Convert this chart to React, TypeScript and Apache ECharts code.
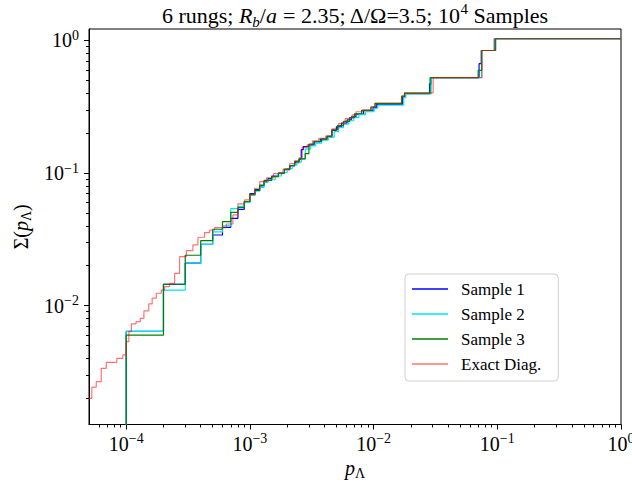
import React, { useEffect, useRef } from 'react';
import * as echarts from 'echarts';

// ---- data ----
const seriesNames = ['Sample 1', 'Sample 2', 'Sample 3', 'Exact Diag.'];

const sample1: [number, number][] = [
  [1e-4, 1e-4], [1e-4, 0.0064], [2e-4, 0.0145], [3e-4, 0.0209], [4e-4, 0.029], [5e-4, 0.0341],
  [6e-4, 0.039], [7e-4, 0.0456], [8e-4, 0.0533], [9e-4, 0.0608], [1.0e-3, 0.07], [1.1e-3, 0.075],
  [1.2e-3, 0.08], [1.3e-3, 0.087], [1.4e-3, 0.091], [1.5e-3, 0.095], [1.7e-3, 0.1], [1.9e-3, 0.106],
  [2.1e-3, 0.113], [2.3e-3, 0.12], [2.5e-3, 0.127], [2.6e-3, 0.15], [2.7e-3, 0.158], [3.0e-3, 0.163],
  [3.3e-3, 0.172], [3.7e-3, 0.18], [4.2e-3, 0.188], [4.6e-3, 0.21], [5.0e-3, 0.223], [5.5e-3, 0.238],
  [6.1e-3, 0.252], [6.6e-3, 0.265], [7.2e-3, 0.278], [8.3e-3, 0.295], [9.9e-3, 0.313], [0.0106, 0.33],
  [0.0171, 0.375], [0.0179, 0.397], [0.0283, 0.47], [0.0292, 0.524], [0.0712, 0.668], [0.0742, 0.84],
  [0.0955, 1.03], [1, 1.03],
];

const sample2: [number, number][] = [
  [1e-4, 1e-4], [1e-4, 0.0064], [2e-4, 0.0131], [3e-4, 0.0209], [4e-4, 0.029], [5e-4, 0.036],
  [6e-4, 0.04], [7e-4, 0.054], [8e-4, 0.056], [9e-4, 0.06], [1.0e-3, 0.068], [1.1e-3, 0.073],
  [1.2e-3, 0.078], [1.3e-3, 0.085], [1.4e-3, 0.089], [1.6e-3, 0.095], [1.8e-3, 0.101], [2.0e-3, 0.108],
  [2.2e-3, 0.115], [2.4e-3, 0.121], [2.6e-3, 0.128], [2.8e-3, 0.152], [3.1e-3, 0.16], [3.4e-3, 0.168],
  [3.8e-3, 0.177], [4.3e-3, 0.186], [4.8e-3, 0.205], [5.2e-3, 0.22], [5.7e-3, 0.234], [6.3e-3, 0.248],
  [6.9e-3, 0.262], [7.6e-3, 0.276], [8.6e-3, 0.29], [0.0101, 0.308], [0.0108, 0.325], [0.0175, 0.37],
  [0.0182, 0.395], [0.0292, 0.524], [0.0745, 0.84], [0.096, 1.03], [1, 1.03],
];

const sample3: [number, number][] = [
  [1e-4, 1e-4], [1e-4, 0.006], [2e-4, 0.0145], [3e-4, 0.024], [4e-4, 0.0309], [5e-4, 0.0377],
  [6e-4, 0.043], [7e-4, 0.0506], [8e-4, 0.055], [9e-4, 0.061], [1.0e-3, 0.069], [1.1e-3, 0.074],
  [1.2e-3, 0.081], [1.3e-3, 0.088], [1.5e-3, 0.094], [1.7e-3, 0.1], [1.9e-3, 0.107], [2.1e-3, 0.114],
  [2.3e-3, 0.122], [2.5e-3, 0.128], [2.8e-3, 0.14], [3.0e-3, 0.165], [3.3e-3, 0.173], [3.8e-3, 0.18],
  [4.2e-3, 0.19], [4.6e-3, 0.212], [5.1e-3, 0.228], [5.7e-3, 0.245], [6.4e-3, 0.262], [7.0e-3, 0.28],
  [8.0e-3, 0.297], [9.5e-3, 0.315], [0.0103, 0.335], [0.0169, 0.38], [0.0178, 0.4], [0.0286, 0.524],
  [0.07, 0.594], [0.0748, 0.84], [0.097, 1.03], [1, 1.03],
];

const exactDiag: [number, number][] = [
  [4e-5, 0.002], [5.27e-5, 0.00243], [5.72e-5, 0.00267], [6.28e-5, 0.00337], [6.9e-5, 0.00374],
  [8.4e-5, 0.00401], [9.38e-5, 0.00425], [1.0e-4, 0.00535], [1.05e-4, 0.00637], [1.1e-4, 0.00728],
  [1.2e-4, 0.00758], [1.3e-4, 0.00803], [1.39e-4, 0.00912], [1.52e-4, 0.0103], [1.62e-4, 0.0114],
  [1.75e-4, 0.0124], [1.92e-4, 0.0131], [2.04e-4, 0.0139], [2.24e-4, 0.0147], [2.46e-4, 0.0175],
  [2.7e-4, 0.0234], [3.06e-4, 0.026], [3.46e-4, 0.0287], [3.8e-4, 0.0328], [4.3e-4, 0.0356],
  [4.72e-4, 0.0372], [5.18e-4, 0.0388], [6.44e-4, 0.0413], [7.28e-4, 0.0483], [8.0e-4, 0.0585],
  [9.06e-4, 0.0627], [9.95e-4, 0.0684], [1.09e-3, 0.0768], [1.2e-3, 0.0861], [1.36e-3, 0.092],
  [1.55e-3, 0.099], [1.85e-3, 0.107], [2.1e-3, 0.118], [2.3e-3, 0.124], [2.5e-3, 0.13],
  [2.65e-3, 0.157], [2.9e-3, 0.163], [3.2e-3, 0.175], [3.6e-3, 0.183], [4.1e-3, 0.19],
  [4.6e-3, 0.215], [5.2e-3, 0.236], [5.9e-3, 0.258], [6.7e-3, 0.275], [7.2e-3, 0.29],
  [8.2e-3, 0.3], [9.6e-3, 0.315], [0.0102, 0.336], [0.0168, 0.38], [0.0177, 0.402],
  [0.0303, 0.525], [0.0753, 0.84], [0.094, 1.03], [1, 1.03],
];

const xMajorTicks = [1e-4, 1e-3, 1e-2, 1e-1, 1];
const yMajorTicks = [1e-2, 1e-1, 1];
const xRange = [5e-5, 1];
const yRange = [1.27e-3, 1.22];

const titleText =
  '{n|6 rungs; }{i|R}{s|b}{n|/}{i|a}{n| = 2.35; Δ/Ω=3.5; 10}{p|4}{n| Samples}';
const xName = '{i|p}{s|Λ}';
const yName = '{n|Σ(}{i|p}{s|Λ}{n|)}';

// ---- styling ----
const FONT = '"Liberation Serif", "DejaVu Serif", serif';
const colors = ['#0000ff', '#00e5ee', '#008000', 'rgba(255,0,0,0.55)'];

function minorTicks(lo: number, hi: number): number[] {
  const out: number[] = [];
  for (let n = -6; n <= 1; n++) {
    for (let k = 2; k <= 9; k++) {
      const v = k * Math.pow(10, n);
      if (v > lo && v < hi) out.push(v);
    }
  }
  return out;
}

function powLabel(v: number): string {
  const e = v <= 0 ? Math.round(v) : Math.round(Math.log10(v));
  const s = e < 0 ? '\u2212' + String(-e) : String(e);
  return `{b|10}{e|${s}}`;
}

const tickRich = {
  b: { fontFamily: FONT, fontSize: 20, lineHeight: 24, color: '#000' },
  e: { fontFamily: FONT, fontSize: 14, lineHeight: 14, verticalAlign: 'top', color: '#000' },
};

const nameRich = {
  n: { fontFamily: FONT, fontSize: 20, lineHeight: 24, color: '#000' },
  i: { fontFamily: FONT, fontSize: 20, lineHeight: 24, fontStyle: 'italic', color: '#000' },
  s: { fontFamily: FONT, fontSize: 14, lineHeight: 14, verticalAlign: 'bottom', color: '#000' },
};

export default function App() {
  const ref = useRef<HTMLDivElement>(null);

  useEffect(() => {
    if (!ref.current) return;
    const chart = echarts.init(ref.current, undefined, { renderer: 'svg' });
    const xMinor = minorTicks(xRange[0], xRange[1]);
    const yMinor = minorTicks(yRange[0], yRange[1]);
    const allData = [sample1, sample2, sample3, exactDiag];

    const axisLine = { show: true, lineStyle: { color: '#000', width: 1 } };

    chart.setOption({
      animation: false,
      backgroundColor: '#fff',
      grid: {
        left: 89, top: 29, right: 11, bottom: 58.5,
        show: true, borderColor: '#000', borderWidth: 1,
        containLabel: false, outerBoundsMode: 'none',
      },
      graphic: [
        {
          type: 'text',
          x: 355,
          y: 1,
          style: {
            text: titleText,
            align: 'center',
            verticalAlign: 'top',
            fill: '#000',
            fontFamily: FONT,
            fontSize: 22,
            rich: {
              n: { fontFamily: FONT, fontSize: 22, lineHeight: 28, fill: '#000' },
              i: { fontFamily: FONT, fontSize: 22, lineHeight: 28, fontStyle: 'italic', fill: '#000' },
              s: { fontFamily: FONT, fontSize: 15, lineHeight: 15, fontStyle: 'italic', verticalAlign: 'bottom', fill: '#000' },
              p: { fontFamily: FONT, fontSize: 15, lineHeight: 15, verticalAlign: 'top', fill: '#000' },
            },
          },
        },
      ],
      legend: {
        orient: 'vertical',
        left: 405,
        top: 274,
        data: seriesNames,
        icon: 'rect',
        itemWidth: 36,
        itemHeight: 1.5,
        itemGap: 5,
        padding: [5, 17, 7, 7],
        backgroundColor: 'rgba(255,255,255,0.8)',
        borderColor: '#d0d0d0',
        borderWidth: 1,
        borderRadius: 4,
        textStyle: { fontFamily: FONT, fontSize: 17, lineHeight: 20, color: '#000', padding: [0, 0, 0, 8] },
      },
      xAxis: [
        {
          type: 'log', logBase: 10, min: xRange[0], max: xRange[1], gridIndex: 0, position: 'bottom',
          axisLine,
          axisTick: { show: true, customValues: xMajorTicks, length: 5, lineStyle: { color: '#000', width: 1 } },
          axisLabel: { show: true, customValues: xMajorTicks, formatter: powLabel, margin: 7, rich: tickRich },
          splitLine: { show: false },
          minorTick: { show: false },
          name: xName, nameLocation: 'middle', nameGap: 28,
          nameTextStyle: { rich: nameRich, fontFamily: FONT, fontSize: 20 },
        },
        {
          type: 'log', logBase: 10, min: xRange[0], max: xRange[1], gridIndex: 0, position: 'bottom',
          axisLine: { show: false },
          axisTick: { show: true, customValues: xMinor, length: 3, lineStyle: { color: '#000', width: 1 } },
          axisLabel: { show: false },
          splitLine: { show: false },
        },
      ],
      yAxis: [
        {
          type: 'log', logBase: 10, min: yRange[0], max: yRange[1], gridIndex: 0, position: 'left',
          axisLine,
          axisTick: { show: true, customValues: yMajorTicks, length: 5, lineStyle: { color: '#000', width: 1 } },
          axisLabel: { show: true, customValues: yMajorTicks, formatter: powLabel, margin: 10, rich: tickRich },
          splitLine: { show: false },
          minorTick: { show: false },
          name: yName, nameLocation: 'middle', nameGap: 52, nameRotate: 90,
          nameTextStyle: { rich: nameRich, fontFamily: FONT, fontSize: 20 },
        },
        {
          type: 'log', logBase: 10, min: yRange[0], max: yRange[1], gridIndex: 0, position: 'left',
          axisLine: { show: false },
          axisTick: { show: true, customValues: yMinor, length: 3, lineStyle: { color: '#000', width: 1 } },
          axisLabel: { show: false },
          splitLine: { show: false },
        },
      ],
      series: allData.map((d, i) => ({
        name: seriesNames[i],
        type: 'line',
        step: 'end',
        xAxisIndex: 0,
        yAxisIndex: 0,
        data: d,
        symbol: 'none',
        showSymbol: false,
        clip: true,
        color: colors[i],
        itemStyle: { color: colors[i] },
        lineStyle: { color: colors[i], width: 1.2 },
        emphasis: { disabled: true },
        z: 2 + i,
      })),
    });

    return () => chart.dispose();
  }, []);

  return <div ref={ref} style={{ position: 'absolute', left: 0, top: 0, width: 632, height: 483 }} />;
}
